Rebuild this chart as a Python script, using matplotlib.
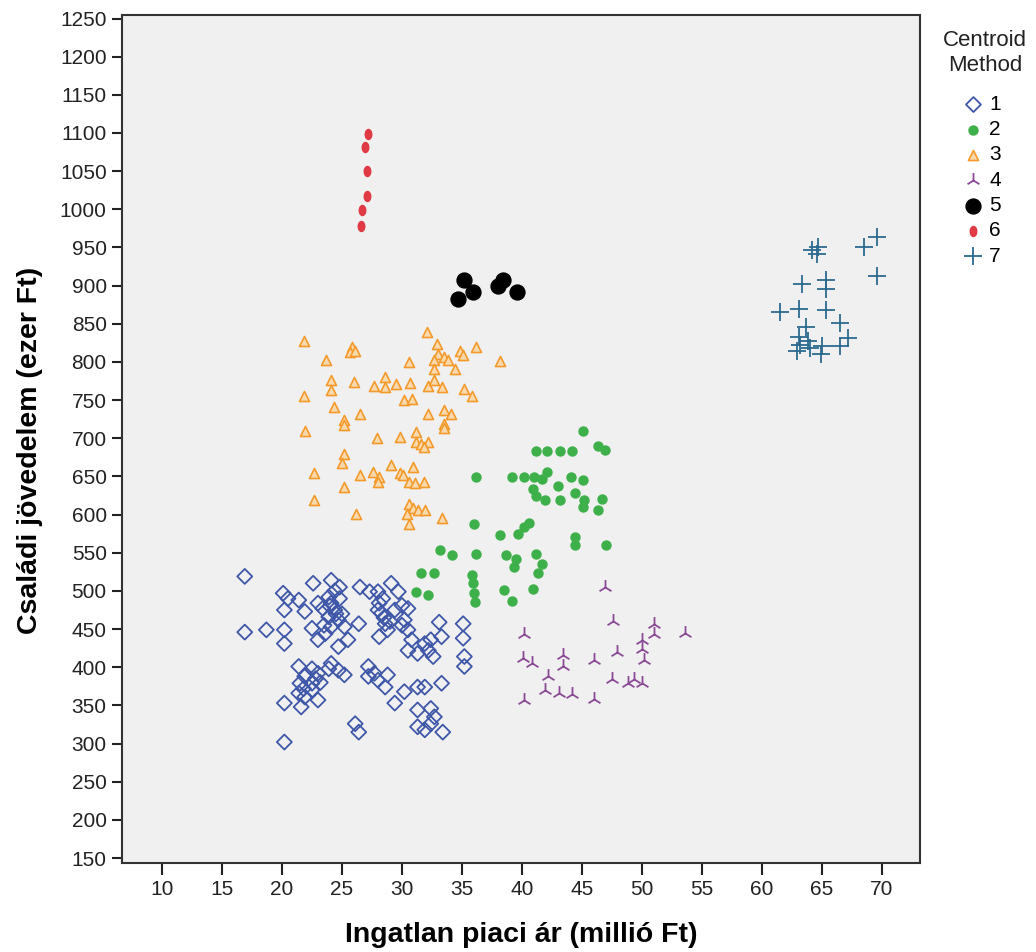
import numpy as np
import matplotlib
matplotlib.use('Agg')
import matplotlib.pyplot as plt
from matplotlib.path import Path
from matplotlib.transforms import Affine2D

plt.rcParams['font.family'] = ['Liberation Sans', 'DejaVu Sans']

# cluster 1 - diamonds
c1_x = [16.9, 20.1, 20.5, 20.2, 21.4, 21.9, 22.6, 24.1, 24.8, 26.5,
        27.3, 29.1, 29.7, 23.9, 24.1, 24.4, 23.9, 24.7, 25.2, 24.1,
        23.6, 25.5, 24.7, 26.4, 23.0, 23.4, 28.0, 28.1, 28.3, 28.6,
        28.1, 28.8, 29.4, 30.0, 30.5, 30.2, 30.5, 30.8, 30.5, 31.3,
        31.9, 32.4, 33.1, 33.3, 32.2, 32.6, 35.1, 35.1, 35.2, 35.2,
        16.9, 18.7, 20.2, 20.2, 22.5, 23.0, 21.4, 22.5, 23.0, 23.9,
        24.1, 24.7, 25.2, 21.9, 21.5, 22.5, 21.4, 21.9, 20.2, 21.6,
        23.0, 22.5, 27.2, 27.7, 28.0, 28.8, 27.2, 28.6, 29.4, 30.2,
        31.3, 31.9, 33.3, 26.1, 26.4, 31.3, 32.4, 31.3, 31.9, 32.4,
        33.4, 32.7, 20.2,
        24.5, 24.0, 24.8, 25.0, 23.5, 28.5, 28.0, 29.0, 22.8, 23.2,
        22.0, 21.8, 24.4, 28.4, 30.0]
c1_y = [519, 497, 490, 475, 488, 473, 510, 514, 505, 505,
        499, 510, 499, 492, 484, 475, 466, 462, 453, 453,
        444, 436, 427, 457, 484, 477, 499, 484, 471, 457,
        440, 449, 475, 481, 477, 462, 449, 436, 422, 418,
        431, 436, 459, 440, 422, 414, 457, 438, 414, 401,
        446, 449, 449, 431, 451, 436, 401, 398, 392, 398,
        405, 396, 390, 388, 379, 379, 366, 361, 353, 348,
        357, 370, 401, 392, 383, 390, 388, 374, 353, 368,
        374, 374, 379, 326, 315, 344, 346, 322, 318, 326,
        315, 335, 302,
        470, 480, 490, 470, 455, 465, 475, 460, 385, 380,
        390, 372, 500, 490, 455]

# cluster 2 - green dots
c2_x = [45.1, 46.3, 46.9, 41.2, 42.1, 43.2, 44.2, 36.2, 39.2, 40.2,
        41.0, 42.1, 41.7, 44.1, 45.1, 43.0, 40.9, 44.4, 41.2, 41.9,
        43.2, 45.2, 45.1, 46.7, 46.3, 36.0, 40.6, 40.2, 39.7, 38.2,
        44.4, 44.4, 47.0, 33.2, 34.2, 36.2, 38.7, 39.5, 41.2, 39.3,
        41.7, 41.3, 31.6, 32.7, 35.8, 35.9, 36.0, 36.1, 38.5, 40.9,
        39.2, 31.2, 32.2]
c2_y = [710, 690, 685, 683, 683, 683, 683, 649, 649, 649,
        649, 656, 646, 649, 645, 638, 634, 628, 625, 619,
        619, 619, 610, 620, 606, 588, 589, 584, 575, 573,
        571, 560, 560, 553, 547, 549, 547, 542, 549, 531,
        535, 523, 524, 523, 521, 510, 497, 486, 501, 503,
        487, 499, 494]

# cluster 3 - orange triangles
c3_x = [21.8, 32.1, 25.8, 25.7, 26.1, 23.7, 30.6, 32.9, 33.0, 33.5,
        32.7, 33.8, 34.4, 34.8, 35.1, 36.2, 38.2, 32.7, 24.1, 24.1,
        26.0, 27.7, 28.6, 28.6, 29.5, 30.7, 30.2, 30.8, 32.2, 32.7,
        33.3, 35.2, 35.8, 21.8, 24.3, 26.5, 25.2, 25.2, 32.2, 33.5,
        34.1, 33.5, 33.5, 21.9, 27.9, 29.8, 31.2, 31.2, 31.6, 32.2,
        31.8, 25.2, 25.0, 22.7, 26.5, 27.6, 28.1, 28.0, 29.1, 29.8,
        30.1, 30.9, 30.6, 31.1, 31.8, 25.2, 22.7, 26.2, 30.6, 30.9,
        31.3, 31.9, 30.4, 30.6, 33.3]
c3_y = [828, 839, 820, 813, 815, 803, 800, 824, 811, 806,
        802, 802, 791, 815, 809, 820, 801, 791, 776, 763,
        774, 769, 780, 767, 771, 772, 750, 752, 769, 776,
        767, 765, 756, 756, 741, 732, 724, 717, 732, 737,
        732, 719, 713, 710, 700, 702, 708, 695, 693, 695,
        689, 680, 667, 654, 652, 656, 649, 643, 665, 654,
        652, 662, 643, 641, 643, 636, 619, 601, 614, 608,
        606, 606, 601, 588, 595]

# cluster 4 - purple tri
c4_x = [46.9, 47.6, 51.0, 51.0, 53.6, 40.2, 50.0, 50.0, 50.2, 47.9,
        43.4, 40.1, 40.8, 46.0, 43.4, 42.2, 47.5, 48.8, 49.3, 50.0,
        41.9, 43.1, 44.2, 40.2, 46.0]
c4_y = [505, 460, 457, 444, 445, 444, 436, 424, 409, 420,
        416, 412, 406, 409, 401, 388, 385, 380, 385, 380,
        370, 366, 365, 357, 359]

# cluster 5 - black
c5_x = [35.2, 35.9, 34.7, 38.4, 38.0, 39.6]
c5_y = [907, 892, 883, 907, 900, 892]

# cluster 6 - red
c6_x = [27.2, 26.9, 27.1, 27.1, 26.7, 26.6]
c6_y = [1099, 1081, 1050, 1018, 999, 978]

# cluster 7 - plus
c7_x = [64.2, 64.7, 64.6, 68.5, 69.6, 69.6, 63.3, 65.3, 65.3, 61.5,
        63.1, 65.3, 63.7, 66.5, 63.1, 63.2, 62.9, 64.0, 65.0, 64.9,
        67.2, 66.5, 63.8]
c7_y = [947, 951, 942, 951, 964, 912, 902, 908, 896, 865,
        869, 868, 846, 851, 833, 822, 815, 818, 821, 810,
        832, 821, 828]

labels = ['1', '2', '3', '4', '5', '6', '7']
x_ticks = list(range(10, 75, 5))
y_ticks = list(range(150, 1300, 50))

# fuggoleges ellipszis a 6-os klaszterhez
ellipse = Path.unit_circle().transformed(Affine2D().scale(0.65, 1.0))

W, H = 1036, 952
fig = plt.figure(figsize=(W / 100, H / 100), dpi=100)
ax = fig.add_axes([122 / W, 1 - 863 / H, (920 - 122) / W, (863 - 15) / H])
ax.set_facecolor('#F0F0F0')

ax.scatter(c1_x, c1_y, marker='D', s=58, facecolors='none', edgecolors='#3F57A8', linewidths=1.3, label=labels[0])
ax.scatter(c2_x, c2_y, marker='o', s=42, color='#3DB049', label=labels[1])
ax.scatter(c3_x, c3_y, marker='^', s=52, facecolors='#FAD9AE', edgecolors='#F39A2B', linewidths=1.2, label=labels[2])
ax.scatter(c4_x, c4_y, marker='2', s=115, color='#8B4A96', linewidths=1.3, label=labels[3])
ax.scatter(c5_x, c5_y, marker='o', s=115, color='black', label=labels[4])
ax.scatter(c6_x, c6_y, marker=ellipse, s=52, color='#E03A45', label=labels[5])
ax.scatter(c7_x, c7_y, marker='+', s=160, color='#2B6A8E', linewidths=1.3, label=labels[6])

ax.set_xlim(6.67, 73.17)
ax.set_ylim(143.5, 1254.6)
ax.set_xticks(x_ticks)
ax.set_yticks(y_ticks)
ax.tick_params(axis='both', labelsize=15, width=1.5, color='#222222', labelcolor='#222222')
ax.tick_params(axis='x', length=8.5, pad=4)
ax.tick_params(axis='y', length=7, pad=4)
for sp in ax.spines.values():
    sp.set_color('#333333')
    sp.set_linewidth(1.5)

ax.set_xlabel('Ingatlan piaci ár (millió Ft)', fontsize=20.5, fontweight='bold', va='center')
ax.xaxis.set_label_coords(0.5, (863 - 935) / 848)
ax.set_ylabel('Családi jövedelem (ezer Ft)', fontsize=20.5, fontweight='bold', va='center')
ax.yaxis.set_label_coords((30 - 122) / 798, (863 - 450) / 848)

fig.text(985 / W, 1 - 30 / H, 'Centroid\nMethod', ha='center', va='top', fontsize=16,
         linespacing=1.25, color='#222222')
leg = ax.legend(loc='upper left', bbox_to_anchor=(962 / W, 1 - 95 / H),
                bbox_transform=fig.transFigure, frameon=False, fontsize=15,
                scatterpoints=1, handletextpad=0.2, labelspacing=0.3, handlelength=1.1,
                borderpad=0, borderaxespad=0)

fig.savefig('out.png', dpi=100, facecolor='white')
